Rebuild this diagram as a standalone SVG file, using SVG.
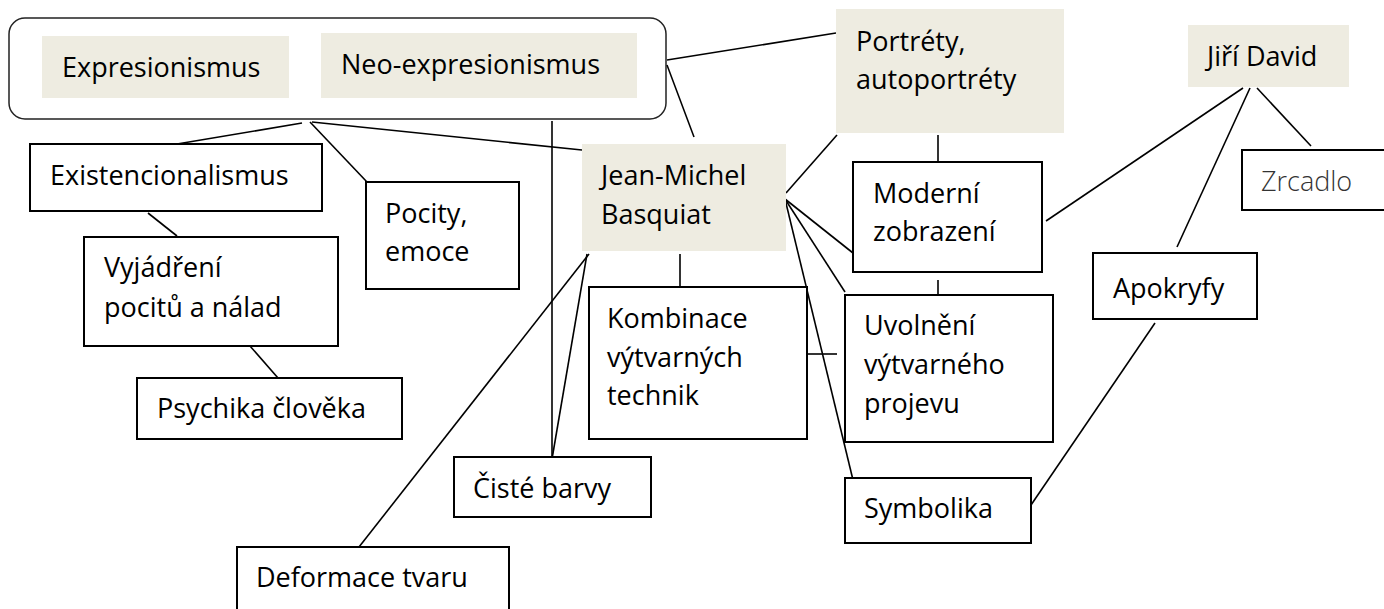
<svg xmlns="http://www.w3.org/2000/svg" width="1384" height="609" viewBox="0 0 1384 609">
<style>
text{font-family:"Open Sans","Noto Sans","Liberation Sans",sans-serif;font-size:27px;fill:#000}
.box{fill:#fff;stroke:#000;stroke-width:2}
.tan{fill:#eeece1;stroke:none}
.grp{fill:#fff;stroke:#222;stroke-width:1.5}
.light{font-weight:300;fill:#333}
#connectors line{stroke:#000;stroke-width:1.6}
</style>
<rect width="1384" height="609" fill="#fff"/>
<g id="group-expresionismus">
<rect class="grp" x="9" y="18" width="657" height="101" rx="16"/>
</g>
<g id="connectors">
<line x1="302" y1="123" x2="177" y2="144"/>
<line x1="310" y1="122" x2="367" y2="182"/>
<line x1="312" y1="122" x2="582" y2="150"/>
<line x1="552" y1="121" x2="552" y2="459"/>
<line x1="667" y1="60" x2="836" y2="33"/>
<line x1="667" y1="65" x2="694" y2="137"/>
<line x1="148" y1="213" x2="177" y2="236"/>
<line x1="250" y1="346" x2="278" y2="378"/>
<line x1="589" y1="254" x2="359" y2="547"/>
<line x1="587" y1="254" x2="552" y2="459"/>
<line x1="680" y1="254" x2="680" y2="287"/>
<line x1="786" y1="193" x2="837" y2="135"/>
<line x1="785" y1="199" x2="853" y2="253"/>
<line x1="785" y1="199" x2="845" y2="292"/>
<line x1="785" y1="199" x2="853" y2="480"/>
<line x1="938" y1="135" x2="938" y2="162"/>
<line x1="938" y1="280" x2="938" y2="295"/>
<line x1="807" y1="354" x2="837" y2="354"/>
<line x1="1243" y1="88" x2="1046" y2="221"/>
<line x1="1250" y1="88" x2="1177" y2="247"/>
<line x1="1257" y1="88" x2="1311" y2="146"/>
<line x1="1155" y1="323" x2="1031" y2="505"/>
</g>
<g id="expresionismus">
<rect class="tan" x="42" y="36" width="247" height="62"/>
<text x="62" y="77">Expresionismus</text>
</g>
<g id="neo-expresionismus">
<rect class="tan" x="321" y="33" width="316" height="65"/>
<text x="341" y="74">Neo-expresionismus</text>
</g>
<g id="portrety">
<rect class="tan" x="836" y="9" width="228" height="124"/>
<text x="856" y="51">Portréty,</text>
<text x="856" y="89">autoportréty</text>
</g>
<g id="jiri-david">
<rect class="tan" x="1188" y="25" width="161" height="62"/>
<text x="1207" y="66">Jiří David</text>
</g>
<g id="zrcadlo">
<rect class="box" x="1242" y="150" width="145" height="60"/>
<text class="light" x="1261" y="191">Zrcadlo</text>
</g>
<g id="existencionalismus">
<rect class="box" x="30" y="144" width="292" height="67"/>
<text x="50" y="185">Existencionalismus</text>
</g>
<g id="pocity">
<rect class="box" x="366" y="182" width="153" height="107"/>
<text x="385" y="223">Pocity,</text>
<text x="385" y="261">emoce</text>
</g>
<g id="basquiat">
<rect class="tan" x="582" y="144" width="204" height="107"/>
<text x="601" y="185">Jean-Michel</text>
<text x="601" y="224">Basquiat</text>
</g>
<g id="moderni">
<rect class="box" x="853" y="162" width="189" height="110"/>
<text x="873" y="203">Moderní</text>
<text x="873" y="241">zobrazení</text>
</g>
<g id="vyjadreni">
<rect class="box" x="84" y="237" width="254" height="109"/>
<text x="104" y="277">Vyjádření</text>
<text x="104" y="317">pocitů a nálad</text>
</g>
<g id="apokryfy">
<rect class="box" x="1093" y="253" width="164" height="66"/>
<text x="1113" y="298">Apokryfy</text>
</g>
<g id="kombinace">
<rect class="box" x="589" y="287" width="218" height="152"/>
<text x="607" y="328">Kombinace</text>
<text x="607" y="367">výtvarných</text>
<text x="607" y="405">technik</text>
</g>
<g id="uvolneni">
<rect class="box" x="845" y="295" width="208" height="147"/>
<text x="864" y="335">Uvolnění</text>
<text x="864" y="374">výtvarného</text>
<text x="864" y="413">projevu</text>
</g>
<g id="psychika">
<rect class="box" x="137" y="378" width="265" height="61"/>
<text x="157" y="418">Psychika člověka</text>
</g>
<g id="ciste-barvy">
<rect class="box" x="454" y="457" width="197" height="60"/>
<text x="473" y="498">Čisté barvy</text>
</g>
<g id="symbolika">
<rect class="box" x="845" y="478" width="186" height="65"/>
<text x="864" y="518">Symbolika</text>
</g>
<g id="deformace">
<rect class="box" x="237" y="547" width="272" height="70"/>
<text x="256" y="587">Deformace tvaru</text>
</g>
</svg>
